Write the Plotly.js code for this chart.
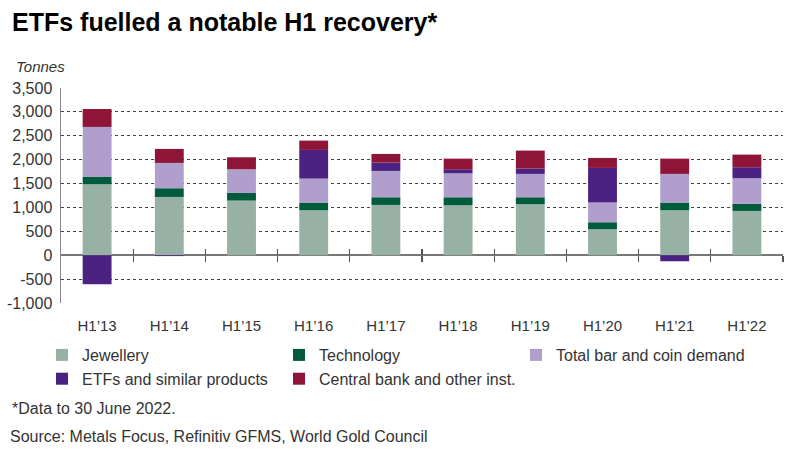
<!DOCTYPE html>
<html>
<head>
<meta charset="utf-8">
<script src="https://cdn.plot.ly/plotly-3.0.1.min.js"></script>
<style>html,body{margin:0;padding:0;background:#fff;}#chart{width:800px;height:453px;}</style>
</head>
<body>
<div id="chart"></div>
<script>
const categories = ["H1\u201913","H1\u201914","H1\u201915","H1\u201916","H1\u201917","H1\u201918","H1\u201919","H1\u201920","H1\u201921","H1\u201922"];
const jewellery  = [1485, 1220, 1144,  941, 1053, 1046, 1067,  544,  941,  927];
const technology = [ 161,  182,  160,  161,  160,  167,  146,  146,  161,  147];
const barCoin    = [1039,  530,  495,  502,  551,  502,  489,  412,  600,  537];
const etfs       = [-607,  -18,    0,  600,  175,   84,  111,  725, -126,  230];
const centralBank= [ 376,  293,  251,  195,  181,  223,  377,  209,  320,  265];
const yTickVals  = [-1000, -500, 0, 500, 1000, 1500, 2000, 2500, 3000, 3500];
const yTickText  = ["-1,000", "-500", "0", "500", "1,000", "1,500", "2,000", "2,500", "3,000", "3,500"];
const boundaryVals = [0.5, 1.5, 2.5, 3.5, 4.5, 5.5, 6.5, 7.5, 8.5, 9.5];

const FONT = "Liberation Sans, Arial, sans-serif";
const TXT = "#333333";

function bar(name, y, color) {
  return {type: "bar", name: name, x: categories, y: y,
          marker: {color: color, line: {width: 0}},
          hoverinfo: "y+name"};
}
function tickHolder(axis) {
  return {type: "scatter", mode: "markers", x: boundaryVals, y: boundaryVals.map(() => null),
          xaxis: axis, yaxis: "y", showlegend: false, hoverinfo: "skip"};
}

const data = [
  bar("Jewellery", jewellery, "#97B2A4"),
  bar("Technology", technology, "#005A3C"),
  bar("Total bar and coin demand", barCoin, "#B09FCC"),
  bar("ETFs and similar products", etfs, "#4B2182"),
  bar("Central bank and other inst.", centralBank, "#8E1537"),
  tickHolder("x2"),
  tickHolder("x3")
];

const layout = {
  width: 800, height: 453,
  margin: {l: 61, r: 17, t: 88, b: 150},
  paper_bgcolor: "#fff", plot_bgcolor: "#fff",
  barmode: "relative",
  bargap: 0.6,
  font: {family: FONT, color: TXT, size: 15},
  title: {text: "<b>ETFs fuelled a notable H1 recovery*</b>",
          font: {family: FONT, size: 25, color: "#000"},
          x: 12/800, xanchor: "left", xref: "container",
          y: 1 - 22/453, yanchor: "middle", yref: "container"},
  xaxis: {type: "category", showgrid: false, showline: false, zeroline: false,
          ticks: "", tickfont: {size: 15, color: TXT}, ticklabelstandoff: 12,
          range: [-0.5, 9.5], fixedrange: true},
  xaxis2: {overlaying: "x", anchor: "free", position: 1000/4500, type: "linear",
           range: [-0.5, 9.5], tickmode: "array", tickvals: boundaryVals,
           ticks: "outside", ticklen: 6, tickwidth: 1.3, tickcolor: "#555",
           showticklabels: false, showgrid: false, showline: false, zeroline: false},
  xaxis3: {overlaying: "x", anchor: "free", position: 1000/4500, type: "linear",
           range: [-0.5, 9.5], tickmode: "array", tickvals: boundaryVals,
           ticks: "inside", ticklen: 6, tickwidth: 1.3, tickcolor: "#555",
           showticklabels: false, showgrid: false, showline: false, zeroline: false},
  yaxis: {range: [-1000, 3500], tickmode: "array", tickvals: yTickVals, ticktext: yTickText,
          showgrid: true, gridcolor: "#444", griddash: "dot", gridwidth: 1,
          zeroline: true, zerolinecolor: "#777", zerolinewidth: 1.5,
          showline: true, linecolor: "#888", linewidth: 1.5,
          ticks: "", tickfont: {size: 16, color: TXT}, ticklabelstandoff: 4},
  showlegend: true,
  legend: {orientation: "h", xref: "container", yref: "container",
           x: 42/800, xanchor: "left", y: 1 - 338/453, yanchor: "top",
           entrywidth: 192, entrywidthmode: "pixels",
           font: {size: 16, color: TXT}, traceorder: "normal",
           itemclick: false, itemdoubleclick: false},
  annotations: [
    {text: "<i>Tonnes</i>", xref: "paper", yref: "paper", x: -61/722 + 14/722, xanchor: "left",
     y: 1 + 22/215, yanchor: "middle", showarrow: false, font: {size: 15, color: TXT}},
    {text: "*Data to 30 June 2022.", xref: "paper", yref: "paper", x: -61/722 + 10/722, xanchor: "left",
     y: -(408-303)/215, yanchor: "middle", showarrow: false, font: {size: 16, color: TXT}},
    {text: "Source: Metals Focus, Refinitiv GFMS, World Gold Council", xref: "paper", yref: "paper",
     x: -61/722 + 8/722, xanchor: "left",
     y: -(436-303)/215, yanchor: "middle", showarrow: false, font: {size: 16, color: TXT}}
  ]
};

Plotly.newPlot("chart", data, layout, {displayModeBar: false, staticPlot: true});
</script>
</body>
</html>
